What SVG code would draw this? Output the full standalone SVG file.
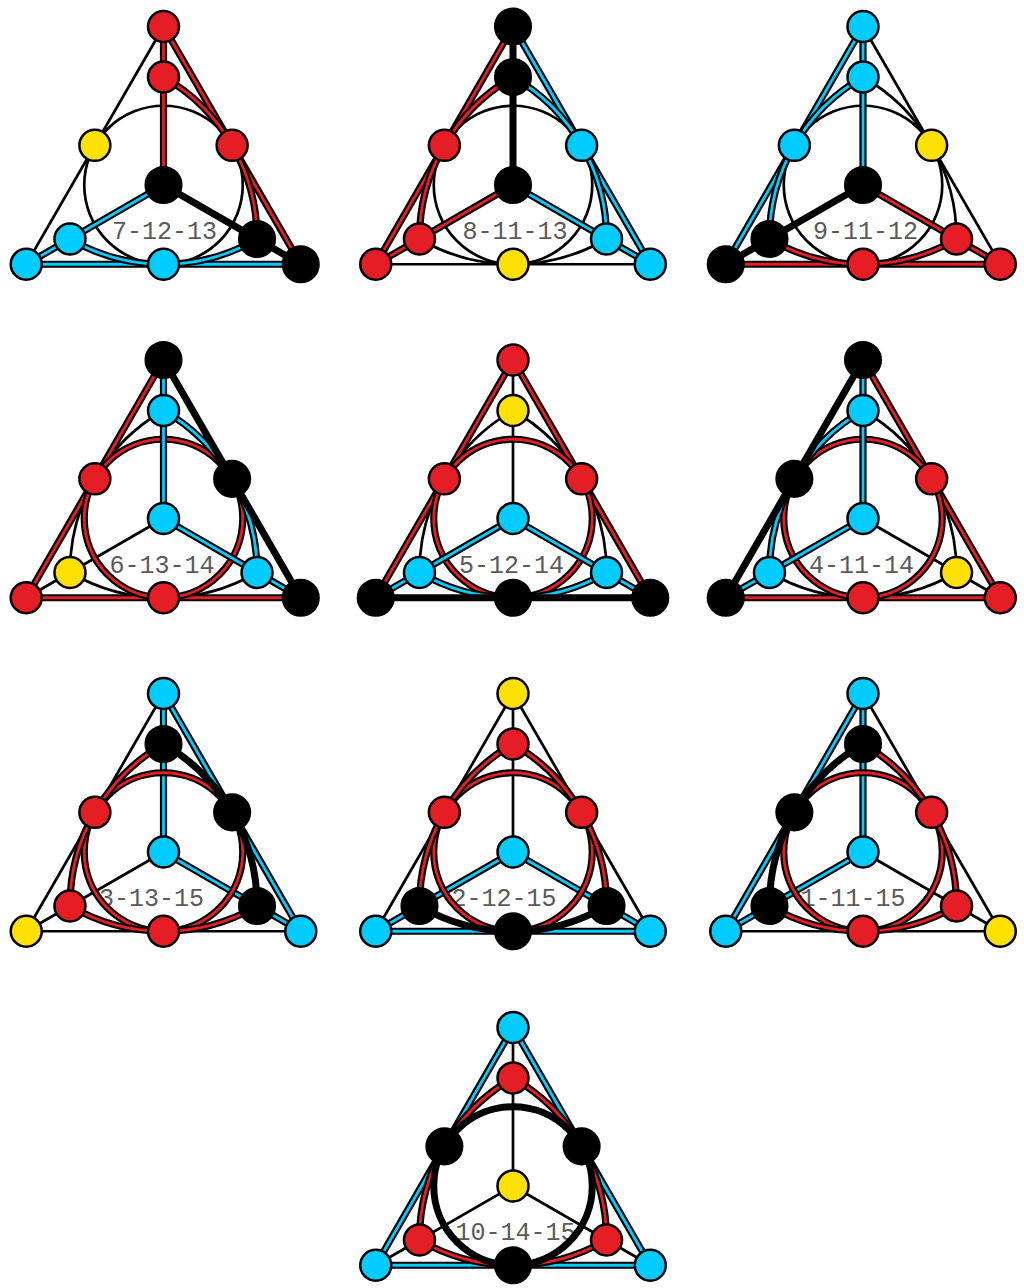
<svg xmlns="http://www.w3.org/2000/svg" width="1024" height="1288" viewBox="0 0 1024 1288">
<style>
.thin{stroke:#000;stroke-width:2.7}
.thick{stroke:#000;stroke-width:7}
.case{stroke:#000;stroke-width:7.2}
.red{stroke:#e41e24;stroke-width:2.8}
.cyan{stroke:#00ccff;stroke-width:2.8}
.node circle{stroke:#000;stroke-width:2.5}
.r{fill:#e41e24}
.c{fill:#00ccff}
.y{fill:#ffe100}
.k{fill:#000}
.lbl{font-family:"Liberation Mono","DejaVu Sans Mono",monospace;font-size:25px;fill:#5a5a5a;text-anchor:middle}
</style>
<defs>
<path id="l1" d="M0,-158.5L-137.26,79.25" fill="none"/>
<path id="l2" d="M0,-158.5L137.26,79.25" fill="none"/>
<path id="l3" d="M-137.26,79.25H137.26" fill="none"/>
<path id="l4" d="M0,-158.5V0" fill="none"/>
<path id="l5" d="M-137.26,79.25L0,0" fill="none"/>
<path id="l6" d="M137.26,79.25L0,0" fill="none"/>
<circle id="l7" cx="0" cy="0" r="79.25" fill="none"/>
<path id="l8" d="M0,-108A185.85,185.85 0 0 0 -93.53,54" fill="none"/>
<path id="l9" d="M0,-108A185.85,185.85 0 0 1 93.53,54" fill="none"/>
<path id="l10" d="M-93.53,54A185.85,185.85 0 0 0 93.53,54" fill="none"/>
</defs>

<g id="panel1" transform="translate(163.5,185)">
<text class="lbl" x="1" y="54">7-12-13</text>
<g id="p1-connectors">
<use href="#l1" class="thin"/><use href="#l7" class="thin"/>
<use href="#l2" class="case"/><use href="#l2" class="red"/>
<use href="#l4" class="case"/><use href="#l4" class="red"/>
<use href="#l9" class="case"/><use href="#l9" class="red"/>
<use href="#l3" class="case"/><use href="#l3" class="cyan"/>
<use href="#l5" class="case"/><use href="#l5" class="cyan"/>
<use href="#l10" class="case"/><use href="#l10" class="cyan"/>
<use href="#l6" class="thick"/>
</g>
<g id="p1-T" class="node"><circle class="r" cx="0" cy="-158.5" r="15.5"/></g>
<g id="p1-IT" class="node"><circle class="r" cx="0" cy="-108" r="15.5"/></g>
<g id="p1-LM" class="node"><circle class="y" cx="-68.63" cy="-39.63" r="15.5"/></g>
<g id="p1-RM" class="node"><circle class="r" cx="68.63" cy="-39.63" r="15.5"/></g>
<g id="p1-C" class="node"><circle class="k" cx="0" cy="0" r="17.8"/></g>
<g id="p1-IL" class="node"><circle class="c" cx="-93.53" cy="54" r="15.5"/></g>
<g id="p1-IR" class="node"><circle class="k" cx="93.53" cy="54" r="17.8"/></g>
<g id="p1-BL" class="node"><circle class="c" cx="-137.26" cy="79.25" r="15.5"/></g>
<g id="p1-BM" class="node"><circle class="c" cx="0" cy="79.25" r="15.5"/></g>
<g id="p1-BR" class="node"><circle class="k" cx="137.26" cy="79.25" r="17.8"/></g>
</g>

<g id="panel2" transform="translate(513,185)">
<text class="lbl" x="2" y="54">8-11-13</text>
<g id="p2-connectors">
<use href="#l3" class="thin"/><use href="#l7" class="thin"/><use href="#l10" class="thin"/>
<use href="#l1" class="case"/><use href="#l1" class="red"/>
<use href="#l5" class="case"/><use href="#l5" class="red"/>
<use href="#l8" class="case"/><use href="#l8" class="red"/>
<use href="#l2" class="case"/><use href="#l2" class="cyan"/>
<use href="#l6" class="case"/><use href="#l6" class="cyan"/>
<use href="#l9" class="case"/><use href="#l9" class="cyan"/>
<use href="#l4" class="thick"/>
</g>
<g id="p2-T" class="node"><circle class="k" cx="0" cy="-158.5" r="17.8"/></g>
<g id="p2-IT" class="node"><circle class="k" cx="0" cy="-108" r="17.8"/></g>
<g id="p2-LM" class="node"><circle class="r" cx="-68.63" cy="-39.63" r="15.5"/></g>
<g id="p2-RM" class="node"><circle class="c" cx="68.63" cy="-39.63" r="15.5"/></g>
<g id="p2-C" class="node"><circle class="k" cx="0" cy="0" r="17.8"/></g>
<g id="p2-IL" class="node"><circle class="r" cx="-93.53" cy="54" r="15.5"/></g>
<g id="p2-IR" class="node"><circle class="c" cx="93.53" cy="54" r="15.5"/></g>
<g id="p2-BL" class="node"><circle class="r" cx="-137.26" cy="79.25" r="15.5"/></g>
<g id="p2-BM" class="node"><circle class="y" cx="0" cy="79.25" r="15.5"/></g>
<g id="p2-BR" class="node"><circle class="c" cx="137.26" cy="79.25" r="15.5"/></g>
</g>

<g id="panel3" transform="translate(863,185)">
<text class="lbl" x="2.5" y="54">9-11-12</text>
<g id="p3-connectors">
<use href="#l2" class="thin"/><use href="#l7" class="thin"/><use href="#l9" class="thin"/>
<use href="#l1" class="case"/><use href="#l1" class="cyan"/>
<use href="#l4" class="case"/><use href="#l4" class="cyan"/>
<use href="#l8" class="case"/><use href="#l8" class="cyan"/>
<use href="#l3" class="case"/><use href="#l3" class="red"/>
<use href="#l6" class="case"/><use href="#l6" class="red"/>
<use href="#l10" class="case"/><use href="#l10" class="red"/>
<use href="#l5" class="thick"/>
</g>
<g id="p3-T" class="node"><circle class="c" cx="0" cy="-158.5" r="15.5"/></g>
<g id="p3-IT" class="node"><circle class="c" cx="0" cy="-108" r="15.5"/></g>
<g id="p3-LM" class="node"><circle class="c" cx="-68.63" cy="-39.63" r="15.5"/></g>
<g id="p3-RM" class="node"><circle class="y" cx="68.63" cy="-39.63" r="15.5"/></g>
<g id="p3-C" class="node"><circle class="k" cx="0" cy="0" r="17.8"/></g>
<g id="p3-IL" class="node"><circle class="k" cx="-93.53" cy="54" r="17.8"/></g>
<g id="p3-IR" class="node"><circle class="r" cx="93.53" cy="54" r="15.5"/></g>
<g id="p3-BL" class="node"><circle class="k" cx="-137.26" cy="79.25" r="17.8"/></g>
<g id="p3-BM" class="node"><circle class="r" cx="0" cy="79.25" r="15.5"/></g>
<g id="p3-BR" class="node"><circle class="r" cx="137.26" cy="79.25" r="15.5"/></g>
</g>

<g id="panel4" transform="translate(163.5,518.5)">
<text class="lbl" x="-1.5" y="54">6-13-14</text>
<g id="p4-connectors">
<use href="#l5" class="thin"/><use href="#l8" class="thin"/><use href="#l10" class="thin"/>
<use href="#l1" class="case"/><use href="#l1" class="red"/>
<use href="#l3" class="case"/><use href="#l3" class="red"/>
<use href="#l7" class="case"/><use href="#l7" class="red"/>
<use href="#l4" class="case"/><use href="#l4" class="cyan"/>
<use href="#l6" class="case"/><use href="#l6" class="cyan"/>
<use href="#l9" class="case"/><use href="#l9" class="cyan"/>
<use href="#l2" class="thick"/>
</g>
<g id="p4-T" class="node"><circle class="k" cx="0" cy="-158.5" r="17.8"/></g>
<g id="p4-IT" class="node"><circle class="c" cx="0" cy="-108" r="15.5"/></g>
<g id="p4-LM" class="node"><circle class="r" cx="-68.63" cy="-39.63" r="15.5"/></g>
<g id="p4-RM" class="node"><circle class="k" cx="68.63" cy="-39.63" r="17.8"/></g>
<g id="p4-C" class="node"><circle class="c" cx="0" cy="0" r="15.5"/></g>
<g id="p4-IL" class="node"><circle class="y" cx="-93.53" cy="54" r="15.5"/></g>
<g id="p4-IR" class="node"><circle class="c" cx="93.53" cy="54" r="15.5"/></g>
<g id="p4-BL" class="node"><circle class="r" cx="-137.26" cy="79.25" r="15.5"/></g>
<g id="p4-BM" class="node"><circle class="r" cx="0" cy="79.25" r="15.5"/></g>
<g id="p4-BR" class="node"><circle class="k" cx="137.26" cy="79.25" r="17.8"/></g>
</g>

<g id="panel5" transform="translate(513,518.5)">
<text class="lbl" x="-1.5" y="54">5-12-14</text>
<g id="p5-connectors">
<use href="#l4" class="thin"/><use href="#l8" class="thin"/><use href="#l9" class="thin"/>
<use href="#l1" class="case"/><use href="#l1" class="red"/>
<use href="#l2" class="case"/><use href="#l2" class="red"/>
<use href="#l7" class="case"/><use href="#l7" class="red"/>
<use href="#l5" class="case"/><use href="#l5" class="cyan"/>
<use href="#l6" class="case"/><use href="#l6" class="cyan"/>
<use href="#l10" class="case"/><use href="#l10" class="cyan"/>
<use href="#l3" class="thick"/>
</g>
<g id="p5-T" class="node"><circle class="r" cx="0" cy="-158.5" r="15.5"/></g>
<g id="p5-IT" class="node"><circle class="y" cx="0" cy="-108" r="15.5"/></g>
<g id="p5-LM" class="node"><circle class="r" cx="-68.63" cy="-39.63" r="15.5"/></g>
<g id="p5-RM" class="node"><circle class="r" cx="68.63" cy="-39.63" r="15.5"/></g>
<g id="p5-C" class="node"><circle class="c" cx="0" cy="0" r="15.5"/></g>
<g id="p5-IL" class="node"><circle class="c" cx="-93.53" cy="54" r="15.5"/></g>
<g id="p5-IR" class="node"><circle class="c" cx="93.53" cy="54" r="15.5"/></g>
<g id="p5-BL" class="node"><circle class="k" cx="-137.26" cy="79.25" r="17.8"/></g>
<g id="p5-BM" class="node"><circle class="k" cx="0" cy="79.25" r="17.8"/></g>
<g id="p5-BR" class="node"><circle class="k" cx="137.26" cy="79.25" r="17.8"/></g>
</g>

<g id="panel6" transform="translate(863,518.5)">
<text class="lbl" x="-1.5" y="54">4-11-14</text>
<g id="p6-connectors">
<use href="#l6" class="thin"/><use href="#l9" class="thin"/><use href="#l10" class="thin"/>
<use href="#l2" class="case"/><use href="#l2" class="red"/>
<use href="#l3" class="case"/><use href="#l3" class="red"/>
<use href="#l7" class="case"/><use href="#l7" class="red"/>
<use href="#l4" class="case"/><use href="#l4" class="cyan"/>
<use href="#l5" class="case"/><use href="#l5" class="cyan"/>
<use href="#l8" class="case"/><use href="#l8" class="cyan"/>
<use href="#l1" class="thick"/>
</g>
<g id="p6-T" class="node"><circle class="k" cx="0" cy="-158.5" r="17.8"/></g>
<g id="p6-IT" class="node"><circle class="c" cx="0" cy="-108" r="15.5"/></g>
<g id="p6-LM" class="node"><circle class="k" cx="-68.63" cy="-39.63" r="17.8"/></g>
<g id="p6-RM" class="node"><circle class="r" cx="68.63" cy="-39.63" r="15.5"/></g>
<g id="p6-C" class="node"><circle class="c" cx="0" cy="0" r="15.5"/></g>
<g id="p6-IL" class="node"><circle class="c" cx="-93.53" cy="54" r="15.5"/></g>
<g id="p6-IR" class="node"><circle class="y" cx="93.53" cy="54" r="15.5"/></g>
<g id="p6-BL" class="node"><circle class="k" cx="-137.26" cy="79.25" r="17.8"/></g>
<g id="p6-BM" class="node"><circle class="r" cx="0" cy="79.25" r="15.5"/></g>
<g id="p6-BR" class="node"><circle class="r" cx="137.26" cy="79.25" r="15.5"/></g>
</g>

<g id="panel7" transform="translate(163.5,852)">
<text class="lbl" x="-12" y="54">3-13-15</text>
<g id="p7-connectors">
<use href="#l1" class="thin"/><use href="#l3" class="thin"/><use href="#l5" class="thin"/>
<use href="#l2" class="case"/><use href="#l2" class="cyan"/>
<use href="#l4" class="case"/><use href="#l4" class="cyan"/>
<use href="#l6" class="case"/><use href="#l6" class="cyan"/>
<use href="#l7" class="case"/><use href="#l7" class="red"/>
<use href="#l8" class="case"/><use href="#l8" class="red"/>
<use href="#l10" class="case"/><use href="#l10" class="red"/>
<use href="#l9" class="thick"/>
</g>
<g id="p7-T" class="node"><circle class="c" cx="0" cy="-158.5" r="15.5"/></g>
<g id="p7-IT" class="node"><circle class="k" cx="0" cy="-108" r="17.8"/></g>
<g id="p7-LM" class="node"><circle class="r" cx="-68.63" cy="-39.63" r="15.5"/></g>
<g id="p7-RM" class="node"><circle class="k" cx="68.63" cy="-39.63" r="17.8"/></g>
<g id="p7-C" class="node"><circle class="c" cx="0" cy="0" r="15.5"/></g>
<g id="p7-IL" class="node"><circle class="r" cx="-93.53" cy="54" r="15.5"/></g>
<g id="p7-IR" class="node"><circle class="k" cx="93.53" cy="54" r="17.8"/></g>
<g id="p7-BL" class="node"><circle class="y" cx="-137.26" cy="79.25" r="15.5"/></g>
<g id="p7-BM" class="node"><circle class="r" cx="0" cy="79.25" r="15.5"/></g>
<g id="p7-BR" class="node"><circle class="c" cx="137.26" cy="79.25" r="15.5"/></g>
</g>

<g id="panel8" transform="translate(513,852)">
<text class="lbl" x="-9" y="54">2-12-15</text>
<g id="p8-connectors">
<use href="#l1" class="thin"/><use href="#l2" class="thin"/><use href="#l4" class="thin"/>
<use href="#l3" class="case"/><use href="#l3" class="cyan"/>
<use href="#l5" class="case"/><use href="#l5" class="cyan"/>
<use href="#l6" class="case"/><use href="#l6" class="cyan"/>
<use href="#l7" class="case"/><use href="#l7" class="red"/>
<use href="#l8" class="case"/><use href="#l8" class="red"/>
<use href="#l9" class="case"/><use href="#l9" class="red"/>
<use href="#l10" class="thick"/>
</g>
<g id="p8-T" class="node"><circle class="y" cx="0" cy="-158.5" r="15.5"/></g>
<g id="p8-IT" class="node"><circle class="r" cx="0" cy="-108" r="15.5"/></g>
<g id="p8-LM" class="node"><circle class="r" cx="-68.63" cy="-39.63" r="15.5"/></g>
<g id="p8-RM" class="node"><circle class="r" cx="68.63" cy="-39.63" r="15.5"/></g>
<g id="p8-C" class="node"><circle class="c" cx="0" cy="0" r="15.5"/></g>
<g id="p8-IL" class="node"><circle class="k" cx="-93.53" cy="54" r="17.8"/></g>
<g id="p8-IR" class="node"><circle class="k" cx="93.53" cy="54" r="17.8"/></g>
<g id="p8-BL" class="node"><circle class="c" cx="-137.26" cy="79.25" r="15.5"/></g>
<g id="p8-BM" class="node"><circle class="k" cx="0" cy="79.25" r="17.8"/></g>
<g id="p8-BR" class="node"><circle class="c" cx="137.26" cy="79.25" r="15.5"/></g>
</g>

<g id="panel9" transform="translate(863,852)">
<text class="lbl" x="-10" y="54">1-11-15</text>
<g id="p9-connectors">
<use href="#l2" class="thin"/><use href="#l3" class="thin"/><use href="#l6" class="thin"/>
<use href="#l1" class="case"/><use href="#l1" class="cyan"/>
<use href="#l4" class="case"/><use href="#l4" class="cyan"/>
<use href="#l5" class="case"/><use href="#l5" class="cyan"/>
<use href="#l7" class="case"/><use href="#l7" class="red"/>
<use href="#l9" class="case"/><use href="#l9" class="red"/>
<use href="#l10" class="case"/><use href="#l10" class="red"/>
<use href="#l8" class="thick"/>
</g>
<g id="p9-T" class="node"><circle class="c" cx="0" cy="-158.5" r="15.5"/></g>
<g id="p9-IT" class="node"><circle class="k" cx="0" cy="-108" r="17.8"/></g>
<g id="p9-LM" class="node"><circle class="k" cx="-68.63" cy="-39.63" r="17.8"/></g>
<g id="p9-RM" class="node"><circle class="r" cx="68.63" cy="-39.63" r="15.5"/></g>
<g id="p9-C" class="node"><circle class="c" cx="0" cy="0" r="15.5"/></g>
<g id="p9-IL" class="node"><circle class="k" cx="-93.53" cy="54" r="17.8"/></g>
<g id="p9-IR" class="node"><circle class="r" cx="93.53" cy="54" r="15.5"/></g>
<g id="p9-BL" class="node"><circle class="c" cx="-137.26" cy="79.25" r="15.5"/></g>
<g id="p9-BM" class="node"><circle class="r" cx="0" cy="79.25" r="15.5"/></g>
<g id="p9-BR" class="node"><circle class="y" cx="137.26" cy="79.25" r="15.5"/></g>
</g>

<g id="panel10" transform="translate(513,1186)">
<text class="lbl" x="2.5" y="54">10-14-15</text>
<g id="p10-connectors">
<use href="#l4" class="thin"/><use href="#l5" class="thin"/><use href="#l6" class="thin"/>
<use href="#l1" class="case"/><use href="#l1" class="cyan"/>
<use href="#l2" class="case"/><use href="#l2" class="cyan"/>
<use href="#l3" class="case"/><use href="#l3" class="cyan"/>
<use href="#l8" class="case"/><use href="#l8" class="red"/>
<use href="#l9" class="case"/><use href="#l9" class="red"/>
<use href="#l10" class="case"/><use href="#l10" class="red"/>
<use href="#l7" class="thick"/>
</g>
<g id="p10-T" class="node"><circle class="c" cx="0" cy="-158.5" r="15.5"/></g>
<g id="p10-IT" class="node"><circle class="r" cx="0" cy="-108" r="15.5"/></g>
<g id="p10-LM" class="node"><circle class="k" cx="-68.63" cy="-39.63" r="17.8"/></g>
<g id="p10-RM" class="node"><circle class="k" cx="68.63" cy="-39.63" r="17.8"/></g>
<g id="p10-C" class="node"><circle class="y" cx="0" cy="0" r="15.5"/></g>
<g id="p10-IL" class="node"><circle class="r" cx="-93.53" cy="54" r="15.5"/></g>
<g id="p10-IR" class="node"><circle class="r" cx="93.53" cy="54" r="15.5"/></g>
<g id="p10-BL" class="node"><circle class="c" cx="-137.26" cy="79.25" r="15.5"/></g>
<g id="p10-BM" class="node"><circle class="k" cx="0" cy="79.25" r="17.8"/></g>
<g id="p10-BR" class="node"><circle class="c" cx="137.26" cy="79.25" r="15.5"/></g>
</g>
</svg>
